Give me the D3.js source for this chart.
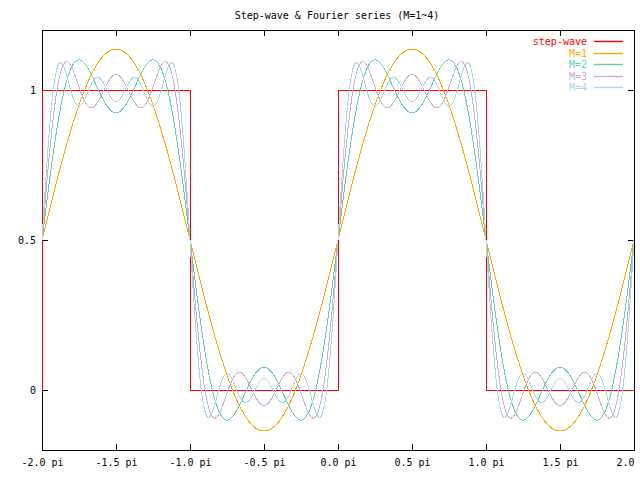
<!DOCTYPE html>
<html><head><meta charset="utf-8">
<script src="https://cdn.jsdelivr.net/npm/d3@7"></script>
<style>body{margin:0;background:#fff}svg{display:block}text{font-family:"DejaVu Sans Mono",monospace;font-size:10px}</style>
</head><body><svg id="c" width="640" height="480"></svg>
<script>
// ---- data ----
const title = "Step-wave & Fourier series (M=1~4)";
const xTickValues = [-2.0, -1.5, -1.0, -0.5, 0.0, 0.5, 1.0, 1.5, 2.0]; // multiples of pi
const xTickLabels = ["-2.0 pi","-1.5 pi","-1.0 pi","-0.5 pi","0.0 pi","0.5 pi","1.0 pi","1.5 pi","2.0 pi"];
const yTickValues = [0, 0.5, 1];
const yTickLabels = ["0", "0.5", "1"];
const stepX = [-2, -2, -1, -1, 0, 0, 1, 1, 2];   // multiples of pi
const stepY = [0, 1, 1, 0, 0, 1, 1, 0, 0];
const seriesNames = ["step-wave", "M=1", "M=2", "M=3", "M=4"];
const seriesColors = ["#ff0000", "#ffa500", "#66cdaa", "#c9aed3", "#a8d8e6"];
const fourierOffset = 0.5;
const harmonicOrders = [1, 3, 5, 7];
const harmonicAmplitudes = [0.63662, 0.21221, 0.12732, 0.09095];

// ---- layout ----
const svg = d3.select("#c");
const L = 42, R = 634, T = 30, B = 450;
const x = d3.scaleLinear().domain([-2 * Math.PI, 2 * Math.PI]).range([L, R]);
const y = d3.scaleLinear().domain([-0.2, 1.2]).range([B, T]);

svg.append("text").attr("x", 337).attr("y", 18.5).attr("text-anchor", "middle").text(title);

// axes (ticks inward, mirrored)
const tickLen = 6;
const xAxisB = d3.axisBottom(x).tickValues(xTickValues.map(v => v * Math.PI)).tickSize(-tickLen).tickPadding(9)
  .tickFormat((d, i) => xTickLabels[i]);
const gxb = svg.append("g").attr("transform", `translate(0,${B})`).call(xAxisB);
const xAxisT = d3.axisTop(x).tickValues(xTickValues.map(v => v * Math.PI)).tickSize(-tickLen).tickFormat("");
const gxt = svg.append("g").attr("transform", `translate(0,${T})`).call(xAxisT);
const yAxisL = d3.axisLeft(y).tickValues(yTickValues).tickSize(-tickLen).tickPadding(6)
  .tickFormat((d, i) => yTickLabels[i]);
const gyl = svg.append("g").attr("transform", `translate(${L},0)`).call(yAxisL);
const yAxisR = d3.axisRight(y).tickValues(yTickValues).tickSize(-tickLen).tickFormat("");
const gyr = svg.append("g").attr("transform", `translate(${R},0)`).call(yAxisR);
[gxb, gxt, gyl, gyr].forEach(g => {
  g.select(".domain").remove();
  g.selectAll("line").attr("stroke", "#000").attr("shape-rendering", "crispEdges");
  g.selectAll("text").attr("fill", "#000").style("font-family", '"DejaVu Sans Mono",monospace').style("font-size", "10px");
});
svg.append("rect").attr("x", L + 0.5).attr("y", T + 0.5).attr("width", R - L).attr("height", B - T)
  .attr("fill", "none").attr("stroke", "#000").attr("shape-rendering", "crispEdges");

// step wave
const stepData = stepX.map((v, i) => [v * Math.PI, stepY[i]]);
const line = d3.line().x(d => x(d[0])).y(d => y(d[1]));
svg.append("path").datum(stepData).attr("d", line).attr("fill", "none")
  .attr("stroke", seriesColors[0]).attr("stroke-width", 1).attr("shape-rendering", "crispEdges");

// Fourier partial sums
const nSamples = 800;
const xs = d3.range(nSamples + 1).map(i => -2 * Math.PI + 4 * Math.PI * i / nSamples);
for (let m = 1; m <= harmonicOrders.length; m++) {
  const pts = xs.map(t => {
    let s = fourierOffset;
    for (let k = 0; k < m; k++) s += harmonicAmplitudes[k] * Math.sin(harmonicOrders[k] * t);
    return [t, s];
  });
  svg.append("path").datum(pts).attr("d", line).attr("fill", "none")
    .attr("stroke", seriesColors[m]).attr("stroke-width", 1).attr("shape-rendering", "crispEdges");
}

// legend
const lg = svg.append("g");
seriesNames.forEach((name, i) => {
  const yy = Math.round(41 + i * 11.6);
  lg.append("text").attr("x", 587).attr("y", yy).attr("dy", "0.35em").attr("text-anchor", "end")
    .attr("fill", seriesColors[i]).text(name);
  lg.append("path").attr("d", `M594,${yy + 0.5}H623`)
    .attr("stroke", seriesColors[i]).attr("stroke-width", 1.4).attr("fill", "none");
});
</script></body></html>
